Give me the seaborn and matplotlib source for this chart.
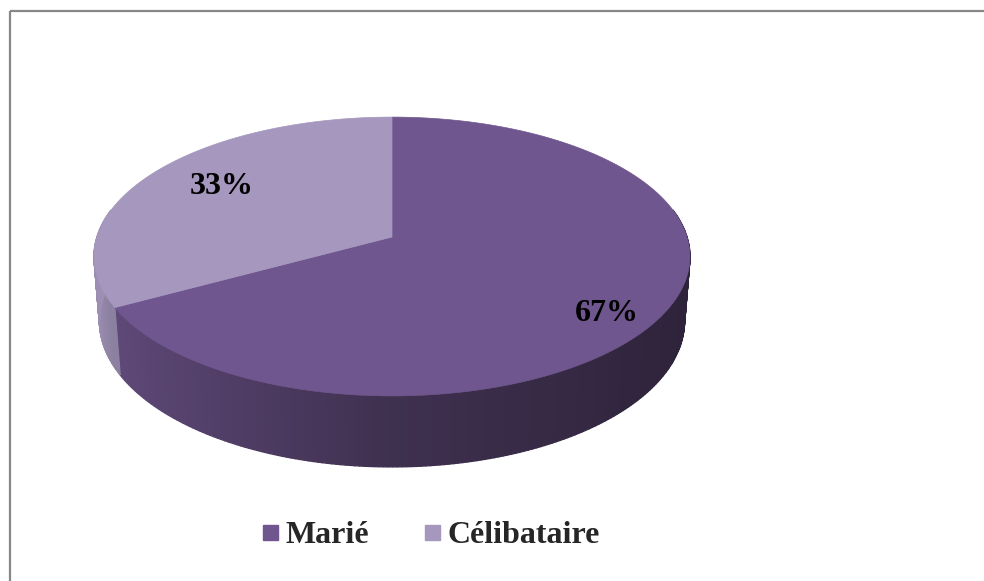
import numpy as np
import matplotlib
matplotlib.use("Agg")
import matplotlib.pyplot as plt
import seaborn as sns
from matplotlib.patches import Polygon
from matplotlib.lines import Line2D
from matplotlib.colors import to_rgb

# ---- data ----
categories = ["Marié", "Célibataire"]
values = [67, 33]
pct_labels = ["67%", "33%"]
colors = ["#70568E", "#A597BD"]

# ---- style ----
sns.set_theme(style="white")
plt.rcParams['font.family'] = ['Liberation Serif', 'DejaVu Serif']
palette = sns.color_palette(colors)

fig = plt.figure(figsize=(9.84, 5.81), dpi=100)
ax = fig.add_axes([0, 0, 1, 1])
ax.set_xlim(0, 984)
ax.set_ylim(581, 0)
ax.axis('off')

# ---- 3D pie geometry (perspective camera, pixel space) ----
cx, cy = 392.0, 237.0
alpha = np.radians(27.6)
sina, cosa = np.sin(alpha), np.cos(alpha)
D = 6.337
F = 1869.5
H = 0.2495  # thickness relative to radius


def proj(theta_deg, rho=1.0, z=0.0):
    t = np.radians(theta_deg)
    X = rho * np.cos(t)
    Y = rho * np.sin(t)
    depth = D + Y * cosa - z * sina
    v = Y * sina + z * cosa
    return cx + F * X / depth, cy - F * v / depth


total = float(sum(values))
bounds = [90.0]
for v in values:
    bounds.append(bounds[-1] - 360.0 * v / total)

# sides
for i, col in enumerate(palette):
    th = np.linspace(bounds[i], bounds[i + 1], 300)
    base = np.array(to_rgb(col))
    for a0, a1 in zip(th[:-1], th[1:]):
        am = 0.5 * (a0 + a1)
        if np.sin(np.radians(am)) > 0.2:
            continue
        fac = np.interp(np.cos(np.radians(am)), [-1, -0.9, 0, 1], [0.95, 0.85, 0.56, 0.40])
        c = np.clip(base * fac, 0, 1)
        pts = [proj(a0), proj(a1), proj(a1, z=-H), proj(a0, z=-H)]
        ax.add_patch(Polygon(pts, closed=True, facecolor=c, edgecolor=c,
                             linewidth=1.0, zorder=1))

# tops
for i, col in enumerate(palette):
    th = np.linspace(bounds[i], bounds[i + 1], 400)
    pts = [proj(0, rho=0.0)] + [proj(a) for a in th]
    ax.add_patch(Polygon(pts, closed=True, facecolor=col, edgecolor=col,
                         linewidth=0.5, zorder=2))

# percentage labels
label_pos = [(607, 321), (222, 194)]
for (x, y), txt in zip(label_pos, pct_labels):
    ax.text(x, y, txt, ha='center', va='baseline', fontsize=23,
            fontweight='bold', color='black', zorder=3)

# legend
handles = [Line2D([], [], marker='s', ls='', color=c, markersize=10.8) for c in palette]
ax.legend(handles, categories, loc='center', bbox_to_anchor=(430 / 984, 1 - 535 / 581),
          ncol=2, frameon=False,
          prop=dict(family='Liberation Serif', weight='bold', size=23),
          handlelength=0.6, handletextpad=0.2, columnspacing=1.65,
          borderpad=0, borderaxespad=0)

# frame (top and left edges visible)
ax.plot([9.5, 984], [11, 11], color='#878787', lw=1.6, solid_capstyle='butt', zorder=0)
ax.plot([9.5, 9.5], [11, 581], color='#878787', lw=1.6, solid_capstyle='butt', zorder=0)

fig.savefig("out.png", dpi=100, facecolor='white')
